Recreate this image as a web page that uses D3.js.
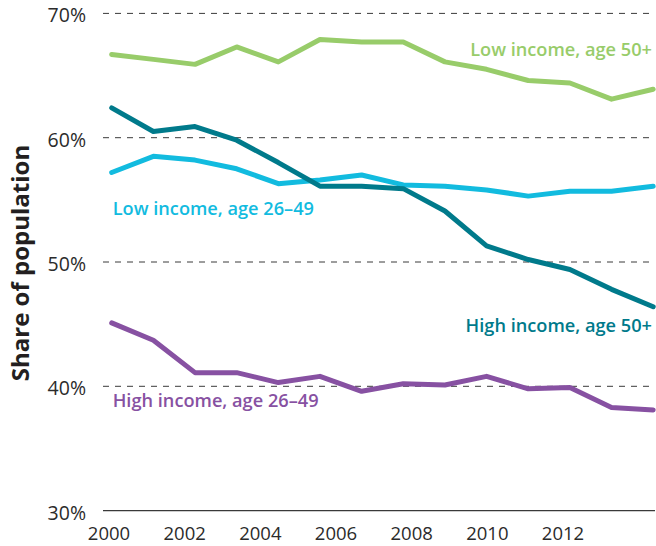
<!DOCTYPE html>
<html>
<head>
<meta charset="utf-8">
<script src="https://cdn.jsdelivr.net/npm/d3@7"></script>
<style>
  html, body { margin: 0; padding: 0; background: #fff; }
  svg { display: block; }
  text { font-family: "Open Sans", "Noto Sans", sans-serif; }
</style>
</head>
<body>
<svg id="chart" width="656" height="546"></svg>
<script>
const years = [2000,2001,2002,2003,2004,2005,2006,2007,2008,2009,2010,2011,2012,2013];
const lowIncome50 = [66.7,66.3,65.9,67.3,66.1,67.9,67.7,67.7,66.1,65.5,64.6,64.4,63.1,63.9];
const lowIncome26 = [57.2,58.5,58.2,57.5,56.3,56.6,57.0,56.2,56.1,55.8,55.3,55.7,55.7,56.1];
const highIncome50 = [62.4,60.5,60.9,59.8,58.0,56.1,56.1,55.9,54.1,51.3,50.2,49.4,47.8,46.4];
const highIncome26 = [45.1,43.7,41.1,41.1,40.3,40.8,39.6,40.2,40.1,40.8,39.8,39.9,38.3,38.1];
const yTicks = [30,40,50,60,70];
const xTickLabels = [2000,2002,2004,2006,2008,2010,2012];
const seriesNames = ["Low income, age 50+","Low income, age 26\u201349","High income, age 50+","High income, age 26\u201349"];
const seriesColors = ["#98cc6a","#12bbdf","#007a8b","#8751a2"];

const svg = d3.select("#chart");
const x = d3.scaleLinear().domain([2000, 2013]).range([111.7, 653.2]);
const xLabel = d3.scaleLinear().domain([2000, 2012]).range([109, 563]);
const y = d3.scaleLinear().domain([30, 70]).range([510.6, 13.4]);
const gridLeft = 103, gridRight = 655;

// gridlines
svg.append("g").selectAll("line").data(yTicks.filter(t => t > 30)).join("line")
  .attr("x1", gridLeft).attr("x2", gridRight)
  .attr("y1", d => y(d)).attr("y2", d => y(d))
  .attr("stroke", "#3a3a3a").attr("stroke-width", 1)
  .attr("stroke-dasharray", "6,6");

// baseline
svg.append("line")
  .attr("x1", gridLeft).attr("x2", gridRight)
  .attr("y1", y(30)).attr("y2", y(30))
  .attr("stroke", "#3a3a3a").attr("stroke-width", 1.4);

// y tick labels
svg.append("g").selectAll("text").data(yTicks).join("text")
  .attr("x", 86).attr("y", d => y(d) + 2)
  .attr("dy", "0.36em")
  .attr("text-anchor", "end")
  .attr("font-size", 19.5).attr("fill", "#2b2b2b")
  .text(d => d + "%");

// x tick labels
svg.append("g").selectAll("text").data(xTickLabels).join("text")
  .attr("x", d => xLabel(d)).attr("y", 540)
  .attr("text-anchor", "middle")
  .attr("font-size", 18.5).attr("fill", "#2b2b2b")
  .text(d => d);

// y title
svg.append("text")
  .attr("transform", "translate(28.5,263) rotate(-90)")
  .attr("text-anchor", "middle")
  .attr("font-size", 24).attr("font-weight", 700).attr("fill", "#231f20")
  .text("Share of population");

const line = d3.line().x((d, i) => x(years[i])).y(d => y(d));
const allSeries = [lowIncome50, lowIncome26, highIncome50, highIncome26];
svg.append("g").selectAll("path").data(allSeries).join("path")
  .attr("d", d => line(d))
  .attr("fill", "none")
  .attr("stroke", (d, i) => seriesColors[i])
  .attr("stroke-width", 5)
  .attr("stroke-linejoin", "round")
  .attr("stroke-linecap", "round");

// series labels
const labelPos = [
  {x: 652, y: 55.7, anchor: "end"},
  {x: 112.7, y: 215, anchor: "start"},
  {x: 652, y: 331.7, anchor: "end"},
  {x: 112.7, y: 407.3, anchor: "start"}
];
svg.append("g").selectAll("text").data(seriesNames).join("text")
  .attr("x", (d, i) => labelPos[i].x)
  .attr("y", (d, i) => labelPos[i].y)
  .attr("text-anchor", (d, i) => labelPos[i].anchor)
  .attr("font-size", 18.2).attr("font-weight", 600)
  .attr("fill", (d, i) => seriesColors[i])
  .text(d => d);
</script>
</body>
</html>
